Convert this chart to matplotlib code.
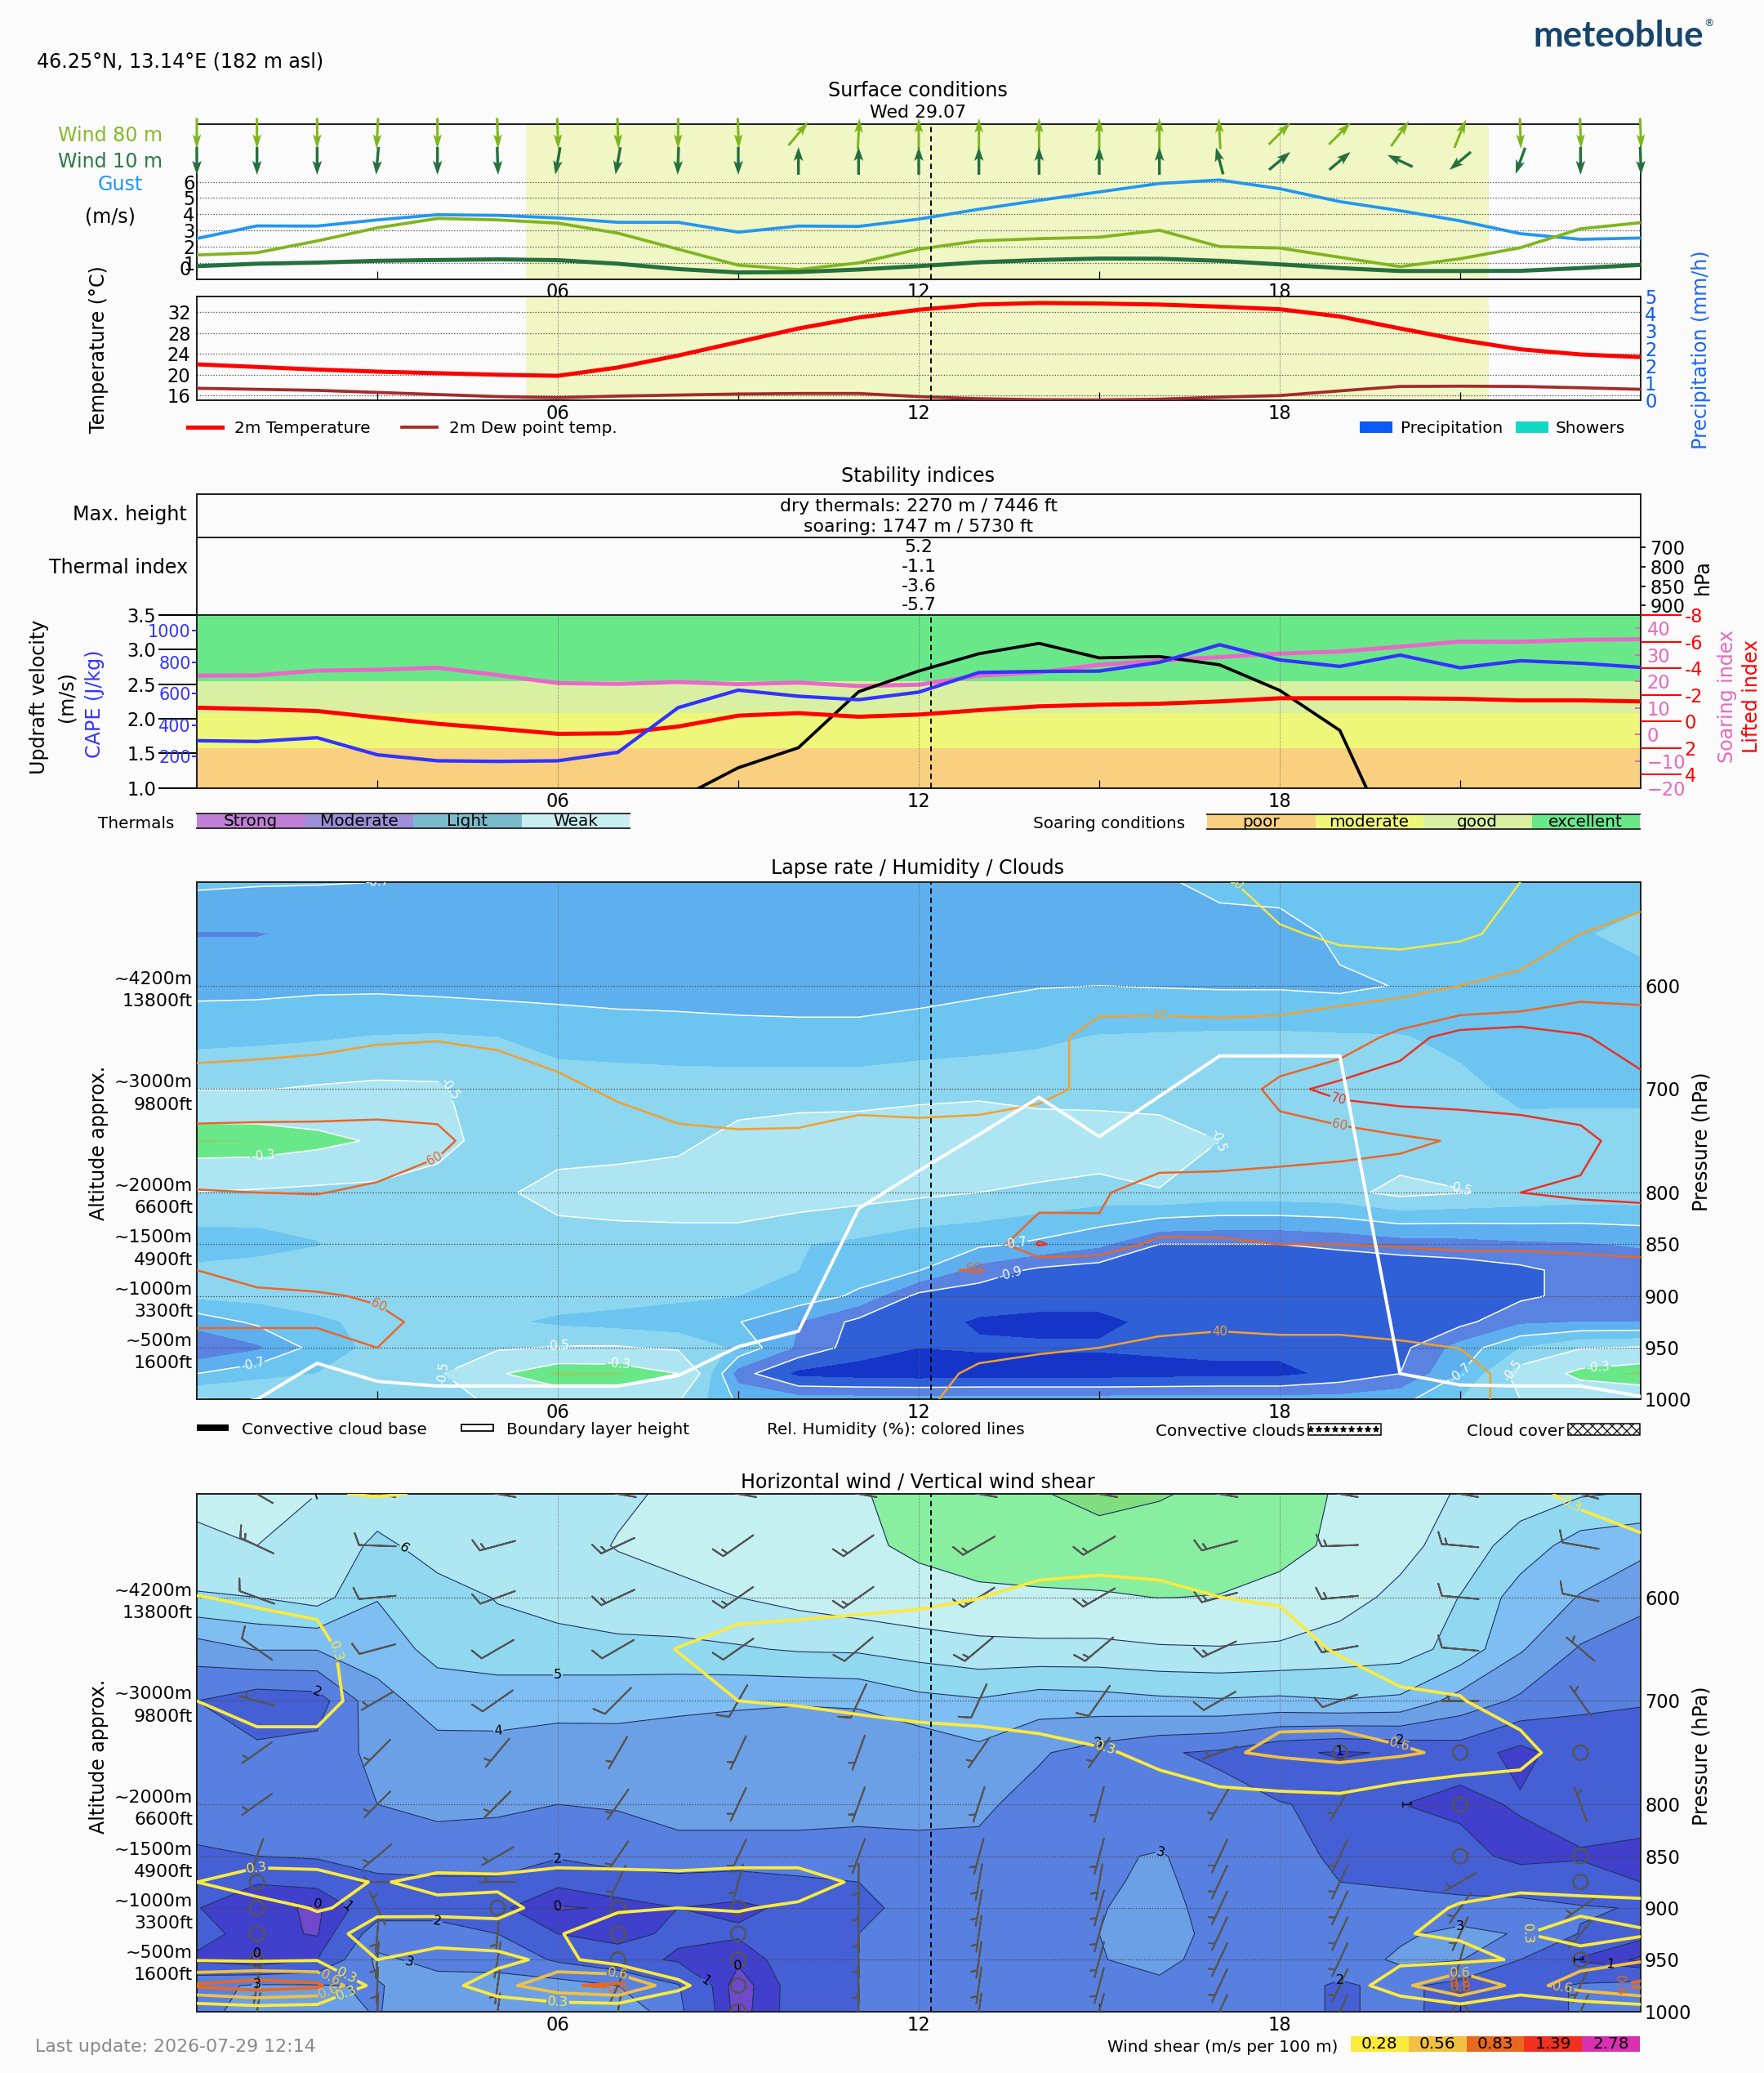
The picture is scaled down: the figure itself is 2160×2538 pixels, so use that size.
import numpy as np
import matplotlib
matplotlib.use('Agg')
import matplotlib.pyplot as plt
from matplotlib.patches import Rectangle
from matplotlib.lines import Line2D

plt.rcParams['font.family'] = ['DejaVu Sans']
plt.rcParams['font.size'] = 9
plt.rcParams['hatch.linewidth'] = 0.5
plt.rcParams['contour.negative_linestyle'] = 'solid'

W, H = 2160, 2538
BG = '#FBFBFB'

hours = list(range(25))
# ---- surface conditions
wind80_to = [180, 180, 180, 183, 180, 178, 178, 178, 180, 178, 40, 3, 0, 0, 0, 0, 0, 357, 45, 45, 35, 22, 178, 178, 178]
wind10_to = [180, 180, 180, 185, 180, 178, 190, 190, 182, 180, 0, 0, 0, 0, 0, 0, 0, 345, 50, 50, 295, 230, 200, 180, 178]
gust = [2.5, 3.28, 3.27, 3.65, 3.97, 3.93, 3.77, 3.5, 3.5, 2.89, 3.27, 3.25, 3.7, 4.31, 4.86, 5.38, 5.9, 6.12, 5.58, 4.78, 4.22, 3.59, 2.8, 2.45, 2.53]
wind80 = [1.48, 1.62, 2.35, 3.16, 3.74, 3.65, 3.45, 2.83, 1.84, 0.85, 0.58, 0.99, 1.84, 2.36, 2.49, 2.58, 3.01, 2.0, 1.91, 1.34, 0.76, 1.25, 1.93, 3.1, 3.48]
wind10 = [0.79, 0.94, 1.01, 1.12, 1.17, 1.21, 1.16, 0.94, 0.61, 0.4, 0.43, 0.58, 0.79, 1.03, 1.17, 1.26, 1.25, 1.12, 0.9, 0.67, 0.49, 0.49, 0.5, 0.67, 0.87]
temp2m = [22.0, 21.5, 21.0, 20.6, 20.3, 20.0, 19.8, 21.4, 23.7, 26.3, 28.9, 31.0, 32.5, 33.5, 33.8, 33.7, 33.5, 33.1, 32.6, 31.2, 28.9, 26.7, 24.9, 23.9, 23.4]
dewpoint = [17.4, 17.2, 17.0, 16.6, 16.2, 15.8, 15.6, 15.9, 16.1, 16.3, 16.4, 16.4, 15.8, 15.4, 15.2, 15.15, 15.3, 15.7, 16.0, 16.9, 17.75, 17.8, 17.75, 17.5, 17.2]

# ---- stability
updraft = [0, 0, 0, 0, 0, 0, 0, 0.4, 0.84, 1.29, 1.58, 2.39, 2.69, 2.94, 3.09, 2.88, 2.90, 2.78, 2.41, 1.83, -0.06, -0.5, -0.5, -0.5, -0.5]
cape = [300, 295, 319, 210, 172, 168, 172, 226, 510, 622, 583, 561, 609, 734, 741, 743, 799, 911, 814, 773, 845, 764, 809, 793, 767]
soaring = [22.2, 22.3, 24.1, 24.4, 25.2, 22.4, 19.4, 19.1, 19.8, 19.0, 19.6, 18.3, 18.8, 22.2, 23.4, 26.3, 27.8, 29.2, 30.5, 31.3, 33.1, 35.0, 34.9, 35.7, 35.9]
lifted = [-1.03, -0.92, -0.78, -0.29, 0.18, 0.55, 0.94, 0.9, 0.39, -0.43, -0.62, -0.35, -0.51, -0.84, -1.13, -1.25, -1.33, -1.5, -1.74, -1.74, -1.74, -1.7, -1.58, -1.58, -1.5]
soaring_bands = [-20, -5, 8, 20, 45]
soaring_colors = ['#F9CF80', '#EFF77A', '#D9F0A3', '#69E88A']
soaring_names = ['poor', 'moderate', 'good', 'excellent']
thermal_names = ['Strong', 'Moderate', 'Light', 'Weak']
thermal_colors = ['#C080D8', '#9D90D8', '#7BBCCC', '#C8EEF2']
thermal_index = ['5.2', '-1.1', '-3.6', '-5.7']
thermal_hpa = ['700', '800', '850', '900']

# ---- pressure grid
pressure = [500, 550, 600, 650, 700, 750, 800, 850, 875, 900, 925, 950, 975, 1000]
p_ticks = [600, 700, 800, 850, 900, 950, 1000]
alt_labels = ['~4200m\n13800ft', '~3000m\n9800ft', '~2000m\n6600ft', '~1500m\n4900ft', '~1000m\n3300ft', '~500m\n1600ft', '']

lapse_rate = [
    [-.68, -.69, -.695, -.70, -.75, -.75, -.75, -.75, -.75, -.75, -.75, -.75, -.75, -.75, -.75, -.75, -.72, -.66, -.64, -.64, -.64, -.64, -.64, -.64, -.64],
    [-.805, -.805, -.78, -.76, -.76, -.76, -.76, -.76, -.76, -.76, -.76, -.76, -.76, -.76, -.76, -.76, -.76, -.76, -.76, -.67, -.64, -.64, -.63, -.61, -.57],
    [-.73, -.73, -.72, -.72, -.73, -.74, -.74, -.75, -.75, -.76, -.77, -.77, -.74, -.72, -.705, -.70, -.705, -.71, -.71, -.72, -.695, -.66, -.65, -.64, -.64],
    [-.63, -.62, -.61, -.595, -.59, -.60, -.63, -.64, -.65, -.655, -.655, -.655, -.65, -.64, -.615, -.595, -.59, -.585, -.585, -.59, -.595, -.62, -.64, -.64, -.64],
    [-.505, -.505, -.49, -.48, -.485, -.56, -.56, -.56, -.56, -.56, -.56, -.56, -.54, -.53, -.55, -.55, -.55, -.55, -.55, -.55, -.56, -.58, -.62, -.63, -.63],
    [-.195, -.2, -.25, -.32, -.46, -.55, -.55, -.55, -.53, -.46, -.43, -.42, -.41, -.40, -.42, -.43, -.45, -.5, -.56, -.56, -.56, -.56, -.57, -.55, -.55],
    [-.505, -.52, -.54, -.55, -.55, -.52, -.46, -.44, -.43, -.43, -.44, -.46, -.48, -.50, -.52, -.54, -.505, -.54, -.54, -.53, -.47, -.495, -.52, -.54, -.54],
    [-.65, -.64, -.605, -.55, -.55, -.55, -.55, -.55, -.55, -.55, -.595, -.62, -.66, -.68, -.72, -.78, -.9, -.9, -.9, -.88, -.85, -.84, -.82, -.81, -.79],
    [-.58, -.56, -.55, -.55, -.55, -.55, -.55, -.55, -.55, -.57, -.6, -.65, -.695, -.84, -.92, -.95, -.96, -.96, -.96, -.97, -.97, -.95, -.92, -.87, -.86],
    [-.58, -.57, -.55, -.53, -.55, -.55, -.55, -.56, -.58, -.60, -.64, -.72, -.93, -.96, -.97, -.97, -.97, -.97, -.97, -.97, -.97, -.96, -.92, -.87, -.85],
    [-.76, -.68, -.62, -.57, -.55, -.58, -.62, -.64, -.66, -.695, -.8, -.93, -.97, -1.01, -1.02, -1.02, -.98, -.97, -.97, -.97, -.95, -.93, -.82, -.8, -.8],
    [-.89, -.82, -.66, -.57, -.53, -.52, -.49, -.49, -.52, -.62, -.82, -.95, -1.0, -.99, -.99, -.99, -.98, -.97, -.97, -.96, -.93, -.76, -.6, -.51, -.49],
    [-.7, -.63, -.6, -.57, -.52, -.32, -.18, -.19, -.3, -.85, -1.03, -1.05, -1.06, -1.05, -1.05, -1.05, -1.04, -1.03, -1.03, -.97, -.9, -.7, -.45, -.25, -.18],
    [-.49, -.51, -.56, -.57, -.56, -.47, -.42, -.42, -.49, -.72, -.76, -.76, -.76, -.76, -.76, -.76, -.76, -.76, -.76, -.76, -.73, -.6, -.5, -.45, -.45],
]
lapse_levels = [-2, -1.0, -0.9, -0.8, -0.7, -0.6, -0.5, -0.3, -0.2, 1]
lapse_colors = ['#1535C8', '#3060D8', '#5A82E0', '#5EAFEE', '#6CC5F0', '#8DD6F0', '#AEE5F2', '#69E88A', '#7FD86C']

humidity = [
    [34, 34, 34, 34, 34, 34, 34, 34, 34, 34, 34, 34, 34, 34, 34, 34, 34, 31, 27, 26, 26, 27, 30, 34, 36],
    [35, 35, 35, 35, 35, 35, 35, 35, 35, 35, 35, 35, 35, 35, 35, 35, 35, 35, 30.7, 29, 29, 28.3, 33, 40, 43],
    [34, 34, 35, 36, 36, 36, 36, 35, 35, 35, 35, 35, 35, 35, 36, 37, 37, 37, 38, 33.5, 32.3, 40, 43, 55, 57],
    [36, 37, 38, 39, 39.5, 38, 36, 35, 35, 35, 35, 35, 35, 35, 38, 42, 42.2, 41.8, 41.5, 50, 65, 75, 77, 71, 65],
    [44, 44, 44, 46, 46, 46, 42, 38.5, 37, 36.5, 37, 37, 37.5, 38, 39, 41, 44, 46, 66, 74, 76, 76, 77, 76, 73],
    [68, 69, 69.5, 69.8, 66.6, 44.6, 43, 44.5, 41.5, 41, 41, 43, 42, 42, 42.5, 44, 47, 50, 52, 54, 58, 61, 63, 67.4, 75],
    [59.5, 60, 60.5, 57.5, 46.6, 44, 43, 43, 43, 43, 43, 44, 45, 47, 53, 58, 68, 67, 68, 69, 66, 67, 70, 71.3, 72],
    [45, 46, 46, 46, 46, 47, 47, 47, 47, 47, 47, 47, 48, 51, 71, 63, 58.7, 59, 60, 60, 60.5, 61, 61, 61.5, 62],
    [60, 50, 50, 50, 48, 48, 48, 48, 48, 48, 48, 48, 58, 61, 49, 56, 54, 54, 54, 54, 56, 57, 57, 57.5, 58],
    [68, 65, 62, 58, 50, 46, 45, 45, 45, 45, 45, 46, 48, 50, 47, 47, 47, 47, 47, 47, 48, 48, 49, 50, 50],
    [65, 65, 65, 64, 55, 50, 48, 47, 47, 47, 46, 46, 47, 47, 45, 45, 45, 44, 45, 45, 45, 45, 46, 47, 48],
    [44, 44, 44, 60, 50, 50, 48, 47, 47, 47, 47, 48, 50, 46, 42, 40, 36, 33, 35, 35, 38, 40.2, 44, 46, 48],
    [45, 45, 45, 50, 50, 50, 48, 47, 47, 47, 47, 48, 48, 36, 34, 33, 32, 32, 32, 32, 33, 35, 45, 50, 50],
    [45, 45, 45, 48, 48, 48, 47, 47, 47, 47, 47, 46, 44, 32, 30.5, 31, 31, 31, 31, 31, 32, 35, 45, 50, 50],
]
humidity_levels = [30, 40, 60, 70]
humidity_colors = ['#F5E642', '#F0A030', '#E8662A', '#E83228']
boundary_layer = [1010, 1000, 965, 982.5, 987, 987, 987, 987, 977, 949, 934, 815.6, 779, 744, 708, 746, 707, 668, 668, 668, 975, 986, 987, 987, 997]

wind_speed = [
    [7.5, 7.6, 7.0, 6.7, 6.85, 6.8, 6.8, 6.85, 7.15, 7.4, 7.6, 7.9, 8.4, 8.6, 8.9, 9.4, 9.1, 8.7, 8.4, 7.9, 7.5, 6.9, 6.5, 6.1, 5.9],
    [6.57, 7.0, 6.9, 5.73, 6.45, 6.6, 6.65, 7.05, 7.25, 7.5, 7.7, 7.9, 8.1, 8.3, 8.4, 8.45, 8.4, 8.3, 8.2, 7.87, 7.3, 6.55, 5.55, 4.55, 4.3],
    [5.92, 6.0, 6.4, 5.05, 5.6, 6.05, 6.3, 6.6, 6.8, 7.0, 7.3, 7.6, 7.8, 7.87, 7.9, 7.93, 8.01, 7.98, 7.8, 7.35, 6.77, 5.97, 4.55, 3.95, 3.25],
    [3.5, 4.05, 4.05, 4.4, 5.35, 5.65, 5.7, 5.75, 5.75, 5.9, 6.1, 6.15, 6.44, 6.7, 6.76, 6.75, 6.9, 6.94, 6.85, 6.59, 6.45, 5.63, 4.1, 2.9, 2.55],
    [2.0, 1.4, 1.55, 3.69, 4.38, 4.35, 4.3, 4.25, 4.2, 4.1, 4.06, 4.15, 4.7, 4.9, 4.5, 4.6, 4.8, 4.9, 4.8, 4.95, 4.8, 3.6, 2.82, 2.15, 2.1],
    [2.5, 2.2, 2.33, 3.3, 3.71, 3.75, 3.6, 3.68, 3.53, 3.55, 3.46, 3.2, 3.27, 3.76, 3.1, 2.6, 2.1, 1.85, 1.18, .9, 1.1, 1.5, .7, 1.6, 1.27],
    [2.7, 2.6, 2.75, 3.0, 3.3, 3.2, 3.0, 3.1, 3.2, 3.2, 3.2, 3.15, 3.2, 3.15, 2.7, 2.6, 2.5, 2.3, 2.05, 1.8, 1.02, .7, 1.12, 1.3, 1.3],
    [1.8, 2.0, 2.1, 2.3, 2.4, 2.4, 2.1, 2.3, 2.8, 2.8, 2.8, 2.8, 2.8, 2.8, 2.8, 2.9, 3.05, 2.7, 2.5, 1.76, 1.6, 1.5, .6, .94, .84],
    [1.3, 1.03, 1.2, 1.85, 1.88, 1.88, 1.15, 1.7, 1.6, 1.4, 1.76, 2.0, 2.2, 2.4, 2.7, 2.85, 3.2, 2.55, 2.4, 2.0, 1.9, 1.8, 1.85, 1.3, 1.0],
    [1.02, .7, .4, 1.5, 1.8, 1.15, .45, .55, 1.0, .86, 1.15, 1.7, 2.4, 2.5, 2.6, 2.95, 3.3, 2.65, 2.5, 2.4, 2.3, 2.2, 2.1, 2.08, 1.95],
    [1.3, .67, .45, 2.5, 2.2, 2.0, 1.0, .8, 1.13, 1.1, 1.6, 2.0, 2.5, 2.6, 2.8, 3.0, 3.35, 2.75, 2.5, 2.3, 2.8, 3.35, 2.9, 1.95, 1.2],
    [.85, .45, 1.0, 3.2, 2.7, 2.7, 1.85, 1.3, .9, .6, 1.45, 2.0, 2.4, 2.5, 2.7, 2.95, 3.3, 2.55, 2.5, 2.4, 3.2, 3.05, 2.0, .9, .4],
    [2.75, 3.1, 3.05, 2.95, 3.37, 3.3, 3.4, 3.0, 2.05, .2, 1.35, 2.0, 2.2, 2.3, 2.4, 2.6, 2.8, 2.5, 2.3, 1.9, 2.2, 1.7, 1.6, 2.1, 2.3],
    [2.75, 3.3, 3.3, 2.95, 3.6, 3.7, 3.8, 3.9, 2.2, .25, 1.35, 2.0, 2.3, 2.4, 2.4, 2.4, 2.5, 2.4, 2.3, 1.9, 2.2, 1.7, 1.6, 2.1, 2.3],
]
speed_levels = [-1, 0.5, 1, 2, 3, 4, 5, 6, 7, 8, 9, 12]
speed_colors = ['#7048CC', '#4040CC', '#4560D5', '#5880E0', '#6CA0E6', '#7FBEF2', '#8FD8F0', '#AEE6F2', '#C5F0F2', '#88EEA0', '#80DD80']

# wind from-direction at odd hours, nan = calm
nan = float('nan')
barb_hours = [1, 3, 5, 7, 9, 11, 13, 15, 17, 19, 21, 23]
wind_from = [
    [300, 280, 280, 280, 280, 280, 280, 280, 280, 280, 280, 285],
    [295, 272, 255, 245, 235, 235, 240, 240, 255, 268, 275, 280],
    [290, 265, 250, 245, 235, 235, 238, 240, 255, 265, 275, 282],
    [305, 255, 240, 240, 235, 230, 230, 230, 245, 260, 275, 310],
    [285, 240, 235, 225, 210, 205, 205, 215, 240, 250, 270, 325],
    [235, 225, 220, 210, 205, 200, 215, 215, 250, nan, nan, nan],
    [235, 225, 225, 215, 205, 200, 198, 195, 210, 210, nan, 340],
    [200, 230, 240, 215, 205, 200, 195, 195, 205, 205, nan, nan],
    [nan, 270, 270, 205, 195, 180, 190, 190, 205, 205, 240, nan],
    [nan, 335, nan, nan, nan, 180, 190, 195, 205, 205, 215, 235],
    [nan, 185, 185, nan, nan, 178, 188, 195, 205, 205, 205, 220],
    [nan, 185, 190, nan, nan, 178, 188, 195, 205, 205, 195, nan],
    [190, 182, 188, 205, nan, 178, 188, 195, 205, 205, nan, 205],
    [190, 182, 188, 190, nan, 178, 188, 195, 205, 205, nan, 205],
]

wind_shear = [
    [.1, .1, .27, .29, .27, .1, .1, .1, .1, .1, .1, .1, .1, .1, .1, .1, .1, .1, .1, .1, .1, .1, .2, .35, .4],
    [.15, .15, .15, .1, .1, .1, .1, .1, .1, .15, .15, .15, .15, .18, .2, .2, .2, .2, .2, .15, .12, .1, .1, .12, .24],
    [.285, .26, .22, .1, .1, .1, .1, .1, .15, .226, .22, .24, .25, .278, .32, .34, .32, .281, .26, .2, .15, .1, .1, .1, .1],
    [.34, .36, .36, .1, .08, .08, .1, .2, .285, .33, .36, .36, .38, .35, .37, .38, .37, .38, .38, .255, .15, .1, .08, .08, .08],
    [.28, .4, .34, .2, .08, .08, .08, .1, .2, .28, .3, .33, .36, .38, .4, .43, .45, .48, .5, .44, .33, .3, .1, .08, .08],
    [.1, .16, .22, .12, .08, .08, .08, .08, .08, .08, .1, .14, .165, .175, .21, .26, .32, .53, .6, .65, .6, .5, .42, .02, .02],
    [.08, .08, .08, .08, .08, .08, .08, .08, .08, .08, .08, .08, .08, .08, .08, .08, .2, .15, .17, .18, .05, 0, 0, .02, .02],
    [.1, .1, .1, .1, .1, .1, .1, .1, .1, .1, .1, .1, .1, .1, .1, .1, .1, .1, .1, .1, .1, .1, .1, .1, .1],
    [.28, .5, .45, .25, .38, .36, .5, .46, .42, .5, .5, .21, .1, .1, .1, .1, .1, .1, .1, .1, .1, .15, .2, .2, .11],
    [.15, .11, .31, .19, .18, .15, .45, .32, .28, .31, .21, .1, .1, .1, .1, .1, .1, .1, .1, .1, .16, .31, .39, .35, .38],
    [.1, .1, .1, .45, .48, .46, .3, .1, .1, .1, .1, .1, .1, .1, .1, .1, .1, .1, .1, .1, .27, .31, .3, .13, .25],
    [.26, .23, .26, .28, .11, .19, .365, .13, .05, .05, .05, .05, .05, .05, .05, .05, .05, .05, .05, .1, .22, .2, .31, .45, .53],
    [.87, 1.0, .9, .14, .15, .45, .78, .9, .35, 0, 0, 0, 0, 0, 0, 0, 0, 0, .05, .09, .47, .9, .44, .7, .9],
    [.015, .07, .05, .05, .05, .05, 0, 0, 0, 0, 0, 0, 0, 0, 0, 0, 0, 0, 0, 0, 0, .03, 0, 0, .05],
]
shear_levels = [0.28, 0.56, 0.83, 1.39, 2.78]
shear_colors = ['#FBEA3E', '#F0C040', '#E86820', '#F03020', '#D830B0']

fig = plt.figure(figsize=(12, 14.1), dpi=180, facecolor=BG)


def px_axes(l, t, r, b):
    ax = fig.add_axes([l / W, 1 - b / H, (r - l) / W, (b - t) / H])
    ax.set_facecolor(BG)
    ax.set_xlim(0, 24)
    for s in ax.spines.values():
        s.set_linewidth(0.8)
        s.set_color('#222222')
    return ax


def ftext(x, y, s, ha='left', va='center', **kw):
    return fig.text(x / W, 1 - y / H, s, ha=ha, va=va, **kw)


def fbox(x0, y0, x1, y1, **kw):
    fig.add_artist(Rectangle((x0 / W, 1 - y1 / H), (x1 - x0) / W, (y1 - y0) / H, transform=fig.transFigure, **kw))


def fline(x0, x1, y, **kw):
    fig.add_artist(Line2D([x0 / W, x1 / W], [1 - y / H, 1 - y / H], transform=fig.transFigure, **kw))


def time_axis(ax, now=True, vgrid=True):
    ax.set_xticks([6, 12, 18])
    ax.set_xticklabels(['06', '12', '18'])
    ax.set_xticks([3, 9, 15, 21], minor=True)
    ax.tick_params(axis='x', which='major', length=0, pad=2)
    ax.tick_params(axis='x', which='minor', length=4, width=0.5, direction='in')
    if vgrid:
        for h in [6, 12, 18]:
            ax.axvline(h, color='#555555', lw=0.35, ls=':', zorder=2.5)
    if now:
        ax.axvline(12.2, color='black', lw=0.75, ls=(0, (3.5, 2.5)), zorder=6)


# ============ Surface conditions
ftext(45, 76, '46.25°N, 13.14°E (182 m asl)', fontsize=9.5)
ftext(2086, 44, 'meteoblue', ha='right', fontsize=17.5, fontfamily='Lato', fontweight='bold', color='#17456B')
ftext(2086, 29, '®', fontsize=5, color='#17456B')
ftext(1124, 111, 'Surface conditions', ha='center', fontsize=9.5)
ftext(1124, 138, 'Wed 29.07', ha='center', fontsize=8.8)

ax_wind = px_axes(241, 152, 2009, 341.5)
ax_wind.set_ylim(0, 9.57)
ax_wind.axvspan(5.47, 21.47, color='#F0F7C5', lw=0, zorder=0)
for v in range(1, 7):
    ax_wind.plot([0, 24], [v, v], color='#444444', lw=0.5, ls=':', zorder=1)
ax_wind.plot(hours, gust, color='#2196F3', lw=1.5, zorder=3)
ax_wind.plot(hours, wind80, color='#7FB51E', lw=1.5, zorder=3)
ax_wind.plot(hours, wind10, color='#25703F', lw=2.0, zorder=3)
ang80 = np.radians(wind80_to)
ang10 = np.radians(wind10_to)
ax_wind.quiver(hours, np.full(25, 8.99), 38 * np.sin(ang80), 38 * np.cos(ang80), color='#7FB51E', angles='uv',
               scale_units='dots', scale=1, units='dots', width=3, headwidth=3.5, headlength=6, headaxislength=5,
               pivot='mid', clip_on=False, zorder=4)
ax_wind.quiver(hours, np.full(25, 7.3), 34 * np.sin(ang10), 34 * np.cos(ang10), color='#25703F', angles='uv',
               scale_units='dots', scale=1, units='dots', width=3.4, headwidth=3.4, headlength=5, headaxislength=4.2,
               pivot='mid', clip_on=False, zorder=4)
time_axis(ax_wind)
ax_wind.set_yticks(range(1, 7))
ax_wind.tick_params(axis='y', length=0, pad=1)
ax_wind.text(-0.004, 0.58 / 9.57, '0', transform=ax_wind.transAxes, ha='right', va='center')
ftext(135, 166, 'Wind 80 m', ha='center', fontsize=9.5, color='#87B829')
ftext(135, 198, 'Wind 10 m', ha='center', fontsize=9.5, color='#2A7A45')
ftext(147, 226, 'Gust', ha='center', fontsize=9.5, color='#2196F3')
ftext(135, 266, '(m/s)', ha='center', fontsize=9.5)

ax_temp = px_axes(241, 363, 2009, 490)
ax_temp.set_ylim(15.1, 35.05)
ax_temp.axvspan(5.47, 21.47, color='#F0F7C5', lw=0, zorder=0)
for v in [16, 20, 24, 28, 32]:
    ax_temp.plot([0, 24], [v, v], color='#444444', lw=0.5, ls=':', zorder=1)
ax_temp.plot(hours, temp2m, color='#FF0000', lw=2.0, zorder=3)
ax_temp.plot(hours, dewpoint, color='#A52A2A', lw=1.5, zorder=3)
time_axis(ax_temp)
ax_temp.set_yticks([16, 20, 24, 28, 32])
ax_temp.tick_params(axis='y', length=0, pad=3)
ax_prec = ax_temp.twinx()
ax_prec.set_ylim(0, 6)
ax_prec.set_yticks(range(7))
ax_prec.set_yticklabels(['0', '1', '2', '2', '3', '4', '5'], color='#0A5AF5')
ax_prec.tick_params(axis='y', length=0, pad=2)
for s in ax_prec.spines.values():
    s.set_visible(False)
ftext(121, 428, 'Temperature (°C)', ha='center', fontsize=9.5, rotation=90)
ftext(2083, 428, 'Precipitation (mm/h)', ha='center', fontsize=9.5, rotation=90, color='#1A66FF')

fline(230, 272, 523, color='#FF0000', lw=2.0)
ftext(287, 525, '2m Temperature', fontsize=8)
fline(492, 535, 523, color='#A52A2A', lw=1.5)
ftext(550, 525, '2m Dew point temp.', fontsize=8)
fbox(1665, 516, 1705, 530, facecolor='#0A5AF5', edgecolor='none')
ftext(1715, 525, 'Precipitation', fontsize=8)
fbox(1856, 516, 1896, 530, facecolor='#12D9C5', edgecolor='none')
ftext(1905, 525, 'Showers', fontsize=8)

# ============ Stability indices
ftext(1124, 583, 'Stability indices', ha='center', fontsize=9.5)
ax_maxh = px_axes(241, 605, 2009, 658)
ax_maxh.set_xticks([])
ax_maxh.set_yticks([])
ax_maxh.text(12, 0.72, 'dry thermals: 2270 m / 7446 ft', ha='center', va='center', fontsize=8.8, transform=ax_maxh.get_xaxis_transform())
ax_maxh.text(12, 0.25, 'soaring: 1747 m / 5730 ft', ha='center', va='center', fontsize=8.8, transform=ax_maxh.get_xaxis_transform())
ftext(229, 630, 'Max. height', ha='right', fontsize=9.5)

ax_ti = px_axes(241, 658, 2009, 753)
ax_ti.set_ylim(0, 95)
ax_ti.set_xticks([])
ax_ti.yaxis.tick_right()
ax_ti.set_yticks([83, 59, 35, 12])
ax_ti.set_yticklabels(thermal_hpa)
ax_ti.tick_params(axis='y', length=2.5, width=0.7, pad=2)
for y, s in zip([83, 59, 35, 12], thermal_index):
    ax_ti.text(12, y, s, ha='center', va='center', fontsize=8.8)
ftext(230, 695, 'Thermal index', ha='right', fontsize=9.5)
ftext(2085, 707, 'hPa', ha='center', fontsize=9.5, rotation=90)

ax_stab = px_axes(241, 753, 2009, 964.5)
ax_stab.set_ylim(1.0, 3.5)
ax_stab.set_yticks([1, 1.5, 2, 2.5, 3, 3.5])
ax_stab.tick_params(axis='y', length=19, width=0.8, pad=1)
time_axis(ax_stab, now=False)

ax_soar = ax_stab.twinx()
ax_soar.set_ylim(-20, 45)
for i, c in enumerate(soaring_colors):
    ax_soar.axhspan(soaring_bands[i], soaring_bands[i + 1], color=c, lw=0, zorder=0)
ax_soar.set_yticks(range(-20, 41, 10))
ax_soar.tick_params(axis='y', direction='in', length=3, width=0.8, colors='#E868C0', pad=3)
ax_soar.plot(hours, soaring, color='#E868C8', lw=2.0, zorder=5)
ax_soar.set_zorder(0.5)
ax_stab.set_zorder(3)
ax_stab.patch.set_visible(False)
ax_stab.plot(hours, updraft, color='black', lw=1.5, zorder=5)
ax_stab.axvline(12.2, color='black', lw=0.75, ls=(0, (3.5, 2.5)), zorder=6)

ax_cape = ax_stab.twinx()
ax_cape.patch.set_visible(False)
ax_cape.set_ylim(0, 1100)
ax_cape.yaxis.tick_left()
ax_cape.set_yticks([200, 400, 600, 800, 1000])
ax_cape.tick_params(axis='y', direction='out', length=2.5, width=0.8, colors='#3333FF', pad=0.5, labelsize=8.3)
ax_cape.plot(hours, cape, color='#3333FF', lw=1.7, zorder=5)
ax_cape.set_zorder(4)

ax_li = ax_stab.twinx()
ax_li.patch.set_visible(False)
ax_li.set_ylim(5, -8)
ax_li.set_yticks([4, 2, 0, -2, -4, -6, -8])
ax_li.set_yticklabels(['4', '2', '0', '-2', '-4', '-6', '-8'])
ax_li.tick_params(axis='y', direction='out', length=20, width=0.8, colors='#FF0000', pad=1.5)
ax_li.plot(hours, lifted, color='#FF0000', lw=2.0, zorder=5)
ax_li.set_zorder(3.5)
for a in (ax_soar, ax_cape, ax_li):
    for s in a.spines.values():
        s.set_visible(False)

ftext(48, 853, 'Updraft velocity', ha='center', fontsize=9.5, rotation=90)
ftext(81, 853, '(m/s)', ha='center', fontsize=9.5, rotation=90)
ftext(116, 862, 'CAPE (J/kg)', ha='center', fontsize=9.5, rotation=90, color='#3333FF')
ftext(2115, 853, 'Soaring index', ha='center', fontsize=9.5, rotation=90, color='#E868C0')
ftext(2145, 853, 'Lifted index', ha='center', fontsize=9.5, rotation=90, color='#FF0000')

ftext(213, 1008, 'Thermals', ha='right', fontsize=8)
x0 = 241
for name, c in zip(thermal_names, thermal_colors):
    fbox(x0, 996, x0 + 132.5, 1014, facecolor=c, edgecolor='none')
    ftext(x0 + 66, 1005, name, ha='center', fontsize=8)
    x0 += 132.5
fline(241, 771, 996, color='#333333', lw=0.8)
fline(241, 771, 1014, color='#333333', lw=0.8)
ftext(1451, 1008, 'Soaring conditions', ha='right', fontsize=8)
x0 = 1478
for name, c in zip(soaring_names, soaring_colors):
    fbox(x0, 997, x0 + 132.5, 1015, facecolor=c, edgecolor='none')
    ftext(x0 + 66, 1006, name, ha='center', fontsize=8)
    x0 += 132.5
fline(1478, 2008, 997, color='#333333', lw=0.8)
fline(1478, 2008, 1015, color='#333333', lw=0.8)


def pressure_axis(ax):
    ax.set_ylim(1000, 500)
    ax.set_yticks(p_ticks)
    ax.set_yticklabels(alt_labels, linespacing=1.45, fontsize=8.8)
    ax.tick_params(axis='y', length=0, pad=2)
    for p in p_ticks[:-1]:
        ax.axhline(p, color='#444444', lw=0.5, ls=':', zorder=2.5)
    axr = ax.twinx()
    axr.set_ylim(1000, 500)
    axr.set_yticks(p_ticks)
    axr.tick_params(axis='y', length=0, pad=2)
    for s in axr.spines.values():
        s.set_visible(False)


# ============ Lapse rate
ftext(1124, 1063, 'Lapse rate / Humidity / Clouds', ha='center', fontsize=9.5)
ax_lapse = px_axes(241, 1080, 2009, 1713.4)
ax_lapse.contourf(hours, pressure, lapse_rate, levels=lapse_levels, colors=lapse_colors, zorder=1)
cs_lapse = ax_lapse.contour(hours, pressure, lapse_rate, levels=[-0.9, -0.7, -0.5, -0.3], colors='white', linewidths=0.6, zorder=2)
cs_rh = ax_lapse.contour(hours, pressure, humidity, levels=humidity_levels, colors=humidity_colors, linewidths=1.0, zorder=3)
ax_lapse.plot(hours, boundary_layer, color='white', lw=1.6, zorder=4)
pressure_axis(ax_lapse)
time_axis(ax_lapse)
lapse_places = [(4.26, 699), (17, 746), (21, 794), (6, 952), (1, 994), (21.9, 975), (1.07, 751), (7, 969), (23.3, 975),
                (13.6, 849), (3.1, 949), (21, 975), (3.27, 505), (13.5, 875)]
ax_lapse.clabel(cs_lapse, inline=True, inline_spacing=1, manual=lapse_places, fontsize=6, fmt='%.1f', colors='white')
rh_places = [(16, 629), (17, 934), (3.96, 768), (3, 911), (12.9, 870), (19, 733.6), (18.98, 709), (17.2, 505)]
ax_lapse.clabel(cs_rh, inline=True, inline_spacing=1, manual=rh_places, fontsize=6, fmt='%.0f')
ftext(121, 1399, 'Altitude approx.', ha='center', fontsize=9.5, rotation=90)
ftext(2083, 1398, 'Pressure (hPa)', ha='center', fontsize=9.5, rotation=90)

fbox(241, 1744, 280, 1752, facecolor='black', edgecolor='none')
ftext(296, 1751, 'Convective cloud base', fontsize=8)
fbox(565, 1744, 604, 1752, facecolor='white', edgecolor='black', lw=0.7)
ftext(620, 1751, 'Boundary layer height', fontsize=8)
ftext(939, 1751, 'Rel. Humidity (%): colored lines', fontsize=8)
ftext(1415, 1752, 'Convective clouds', fontsize=8)
fbox(1602, 1743, 1691, 1757, facecolor='white', edgecolor='black', lw=0.6, hatch='***')
ftext(1796, 1752, 'Cloud cover', fontsize=8)
fbox(1920, 1743, 2008, 1757, facecolor='white', edgecolor='black', lw=0.6, hatch='xxxxx')

# ============ Horizontal wind / shear
ftext(1124, 1815, 'Horizontal wind / Vertical wind shear', ha='center', fontsize=9.5)
ax_shear = px_axes(241, 1829, 2009, 2462.6)
ax_shear.contourf(hours, pressure, wind_speed, levels=speed_levels, colors=speed_colors, zorder=1)
cs_speed = ax_shear.contour(hours, pressure, wind_speed, levels=speed_levels[1:-1], colors='#1F3060', linewidths=0.45, zorder=2)
pressure_axis(ax_shear)
time_axis(ax_shear)

dirs = np.radians(np.array(wind_from, dtype=float))
col_idx = np.array(barb_hours)
spd = np.array(wind_speed)[:, col_idx] * 1.944
bu = np.where(np.isnan(dirs), 0, -spd * np.sin(dirs))
bv = np.where(np.isnan(dirs), 0, -spd * np.cos(dirs))
bx, by = np.meshgrid(barb_hours, pressure)
ax_shear.barbs(bx, by, bu, bv, length=6, pivot='middle', barbcolor='#555555', linewidth=0.8,
               sizes=dict(emptybarb=0.2, spacing=0.14, height=0.32), zorder=3)
cs_shear = ax_shear.contour(hours, pressure, wind_shear, levels=shear_levels, colors=shear_colors, linewidths=1.5, zorder=4)
shear_places = [(2.33, 652), (15.1, 745), (1, 862), (6, 990), (22, 925), (21, 960), (22.9, 505),
                (20, 741), (7, 960), (21, 965), (22.7, 980), (2.5, 965), (2.5, 985),
                (7, 975), (21, 975), (23.5, 972), (2.2, 970), (2.2, 982)]
ax_shear.clabel(cs_shear, inline=True, inline_spacing=1, manual=shear_places, fontsize=6.5, fmt='%.1f')
speed_places = [(2, 503), (3.5, 548), (6, 672), (5, 724), (15, 742), (16, 848), (3.55, 949), (1, 973), (21, 915),
                (2, 690), (6, 853), (4, 913), (19, 970), (20, 745), (20, 797), (2.5, 899), (19, 749), (8.4, 975),
                (22.8, 950), (2, 895), (1, 933), (6, 897), (9, 950), (23.5, 950)]
ax_shear.clabel(cs_speed, inline=True, inline_spacing=1, manual=speed_places, fontsize=6.5, fmt='%.0f', colors='black')
ftext(121, 2150, 'Altitude approx.', ha='center', fontsize=9.5, rotation=90)
ftext(2083, 2150, 'Pressure (hPa)', ha='center', fontsize=9.5, rotation=90)

ftext(43, 2506, 'Last update: 2026-07-29 12:14', fontsize=8.8, color='#888888')
ftext(1638, 2506, 'Wind shear (m/s per 100 m)', ha='right', fontsize=8)
x0 = 1654
for lev, c in zip(shear_levels, shear_colors):
    fbox(x0, 2493, x0 + 70.8, 2512, facecolor=c, edgecolor='none')
    ftext(x0 + 35.4, 2503, f'{lev:.2f}', ha='center', fontsize=8)
    x0 += 70.8

fig.savefig('out.png', dpi=180, facecolor=BG)
